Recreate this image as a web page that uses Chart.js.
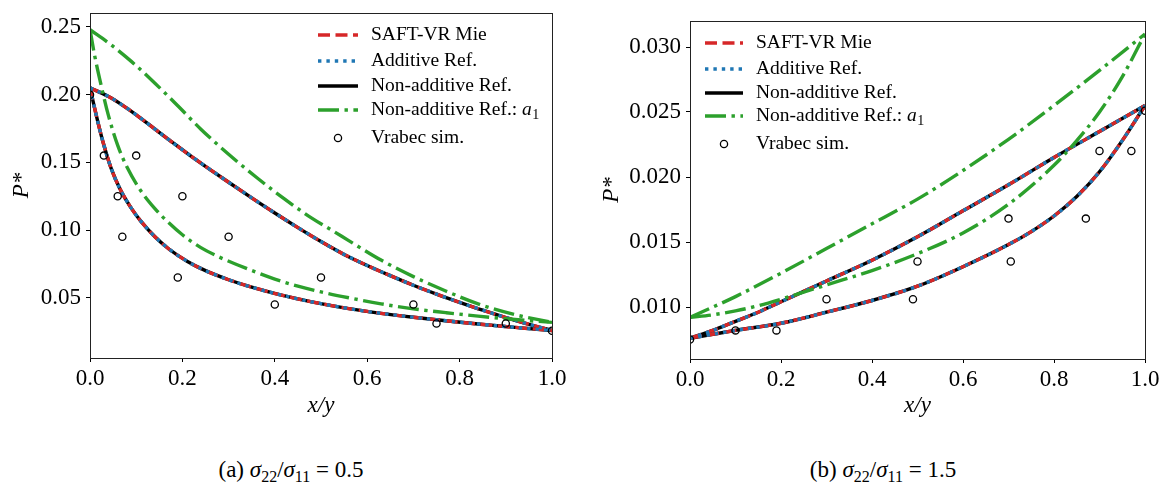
<!DOCTYPE html>
<html><head><meta charset="utf-8">
<script src="https://cdn.jsdelivr.net/npm/chart.js@4.4.0/dist/chart.umd.min.js"></script>
<style>
html,body{margin:0;padding:0;background:#fff;width:1160px;height:484px;overflow:hidden;}
.wrap{position:absolute;top:0;width:580px;height:430px;}
.cap{position:absolute;top:456px;font-family:'Liberation Serif',serif;font-size:23px;line-height:28px;color:#000;white-space:nowrap;transform:translateX(-50%);}
.cap i{font-style:italic}
.cap sub{font-size:16px;vertical-align:-5px;line-height:0}
</style></head><body>
<div class="wrap" style="left:0"><canvas id="ca" width="580" height="430"></canvas></div>
<div class="wrap" style="left:580px"><canvas id="cb" width="580" height="430"></canvas></div>
<div class="cap" style="left:291px">(a) <i>σ</i><sub>22</sub>/<i>σ</i><sub>11</sub> = 0.5</div>
<div class="cap" style="left:883px">(b) <i>σ</i><sub>22</sub>/<i>σ</i><sub>11</sub> = 1.5</div>
<script>
// ---------- tick values ----------
const xTicks = [0, 0.2, 0.4, 0.6, 0.8, 1.0];
const yTicksA = [0.05, 0.10, 0.15, 0.20, 0.25];
const yTicksB = [0.010, 0.015, 0.020, 0.025, 0.030];
const seriesLabels = ['SAFT-VR Mie', 'Additive Ref.', 'Non-additive Ref.', 'Non-additive Ref.: ', 'Vrabec sim.'];

// ---------- (a) sigma22/sigma11 = 0.5 ----------
const xA_bub = [0, 0.04, 0.07, 0.10, 0.14, 0.18, 0.22, 0.26, 0.30, 0.35, 0.40, 0.45, 0.50, 0.55, 0.60, 0.65, 0.70, 0.75, 0.80, 0.85, 0.90, 0.95, 1.0];
const pA_bub = [0.205, 0.1986, 0.1923, 0.1851, 0.1747, 0.1643, 0.1543, 0.1447, 0.1353, 0.1238, 0.1126, 0.1018, 0.0915, 0.0820, 0.0738, 0.0663, 0.0592, 0.0527, 0.0466, 0.0408, 0.0354, 0.0304, 0.0258];
const xA_dew = [0, 0.01, 0.02, 0.03, 0.045, 0.065, 0.09, 0.11, 0.14, 0.17, 0.21, 0.25, 0.30, 0.35, 0.41, 0.48, 0.56, 0.63, 0.70, 0.77, 0.84, 0.92, 1.0];
const pA_dew = [0.205, 0.1900, 0.1757, 0.1628, 0.1463, 0.1303, 0.1158, 0.1066, 0.0952, 0.0862, 0.0770, 0.0700, 0.0633, 0.0578, 0.0523, 0.0470, 0.0420, 0.0385, 0.0356, 0.0330, 0.0306, 0.0281, 0.0258];
const xA_a1bub = [0, 0.046, 0.09, 0.14, 0.19, 0.24, 0.30, 0.36, 0.42, 0.48, 0.53, 0.56, 0.63, 0.70, 0.77, 0.84, 0.92, 1.0];
const pA_a1bub = [0.248, 0.2367, 0.2244, 0.2086, 0.1918, 0.1745, 0.1560, 0.1390, 0.1232, 0.1088, 0.0985, 0.0922, 0.0778, 0.0656, 0.0550, 0.0455, 0.0375, 0.0318];
const xA_a1dew = [0, 0.01, 0.025, 0.04, 0.06, 0.08, 0.11, 0.14, 0.17, 0.20, 0.24, 0.28, 0.32, 0.36, 0.40, 0.45, 0.50, 0.56, 0.63, 0.70, 0.77, 0.84, 0.92, 1.0];
const pA_a1dew = [0.248, 0.229, 0.2055, 0.1845, 0.1625, 0.1465, 0.1290, 0.1160, 0.1055, 0.0965, 0.0870, 0.0800, 0.0742, 0.0688, 0.0638, 0.0585, 0.0543, 0.0500, 0.0455, 0.0418, 0.0390, 0.0364, 0.0339, 0.0318];
const xA_sim = [0, 0.03, 0.10, 0.06, 0.20, 0.07, 0.30, 0.19, 0.50, 0.40, 0.70, 0.75, 0.90, 1.0];
const pA_sim = [0.200, 0.155, 0.155, 0.125, 0.125, 0.095, 0.095, 0.065, 0.065, 0.045, 0.045, 0.031, 0.031, 0.0256];

// ---------- (b) sigma22/sigma11 = 1.5 ----------
const xB_bub = [0, 0.05, 0.10, 0.15, 0.20, 0.30, 0.40, 0.50, 0.60, 0.70, 0.80, 0.90, 1.0];
const pB_bub = [0.0076, 0.0082, 0.0089, 0.0096, 0.0104, 0.0120, 0.0136, 0.0154, 0.0174, 0.0194, 0.0215, 0.0235, 0.0255];
const xB_dew = [0, 0.05, 0.10, 0.20, 0.30, 0.40, 0.50, 0.60, 0.70, 0.75, 0.80, 0.85, 0.90, 0.95, 1.0];
const pB_dew = [0.0076, 0.0079, 0.0082, 0.00875, 0.0096, 0.0105, 0.0116, 0.0131, 0.0148, 0.0158, 0.0170, 0.0185, 0.0204, 0.0228, 0.0255];
const xB_a1bub = [0, 0.10, 0.20, 0.30, 0.40, 0.50, 0.60, 0.70, 0.80, 0.90, 1.0];
const pB_a1bub = [0.0092, 0.0108, 0.0126, 0.0145, 0.0164, 0.0183, 0.0205, 0.0229, 0.0255, 0.0282, 0.0310];
const xB_a1dew = [0, 0.05, 0.10, 0.15, 0.20, 0.30, 0.40, 0.50, 0.60, 0.70, 0.80, 0.85, 0.90, 0.95, 1.0];
const pB_a1dew = [0.0092, 0.0094, 0.0097, 0.0101, 0.0106, 0.0117, 0.0128, 0.0141, 0.0157, 0.0179, 0.0209, 0.0228, 0.0250, 0.0277, 0.0310];
const xB_sim = [0, 0.10, 0.19, 0.30, 0.49, 0.50, 0.705, 0.70, 0.87, 0.90, 0.97, 1.0];
const pB_sim = [0.0075, 0.0082, 0.0082, 0.0106, 0.0106, 0.0135, 0.0135, 0.0168, 0.0168, 0.0220, 0.0220, 0.0251];

// ---------- helpers ----------
const pts = (xs, ys) => xs.map((x, i) => ({x: x, y: ys[i]}));
const SERIF = "'Liberation Serif', serif";
const RED = '#d62728', BLUE = '#1f77b4', GREEN = '#2ca02c', BLACK = '#000000';
const LW = 3.4;
const DASH = [12, 5.5], DOT = [3.4, 5], DASHDOT = [21, 5.5, 3.4, 5.5];

function lineDs(data, color, dash, order) {
  return {data: data, showLine: true, borderColor: color, borderWidth: LW, borderDash: dash,
    pointRadius: 0, fill: false, cubicInterpolationMode: 'monotone', order: order, borderCapStyle: 'butt', borderJoinStyle: 'round'};
}
function buildDatasets(bx, bp, dx, dp, abx, abp, adx, adp, sx, sp) {
  const bub = pts(bx, bp), dew = pts(dx, dp);
  return [
    lineDs(bub, RED, DASH, 2), lineDs(dew, RED, DASH, 2),        // 0,1 SAFT-VR Mie
    lineDs(bub, BLUE, DOT, 1), lineDs(dew, BLUE, DOT, 1),        // 2,3 Additive
    lineDs(bub, BLACK, [], 3), lineDs(dew, BLACK, [], 3),        // 4,5 Non-additive
    lineDs(pts(abx, abp), GREEN, DASHDOT, 0.5), lineDs(pts(adx, adp), GREEN, DASHDOT, 0.5), // 6,7 a1
    {data: pts(sx, sp), showLine: false, pointRadius: 3.6, pointBorderWidth: 1.3,
      pointBorderColor: '#000', pointBackgroundColor: 'rgba(0,0,0,0)', order: 0}  // 8 sim
  ];
}

const frame = {
  id: 'frame',
  afterDatasetsDraw(chart) {
    const a = chart.chartArea, ctx = chart.ctx;
    ctx.save();
    ctx.strokeStyle = '#222';
    ctx.lineWidth = 1;
    ctx.setLineDash([]);
    ctx.strokeRect(Math.round(a.left) + 0.5, Math.round(a.top) + 0.5, Math.round(a.right - a.left), Math.round(a.bottom - a.top));
    ctx.restore();
  }
};

const phaseLegend = {
  id: 'phaseLegend',
  afterDraw(chart, args, o) {
    const ctx = chart.ctx, ds = chart.data.datasets;
    const map = [0, 2, 4, 6, 8];
    ctx.save();
    map.forEach((di, i) => {
      const d = ds[di], y = o.rows[i];
      if (i < 4) {
        ctx.beginPath();
        ctx.setLineDash(d.borderDash);
        ctx.lineDashOffset = 0;
        ctx.lineWidth = d.borderWidth;
        ctx.strokeStyle = d.borderColor;
        ctx.lineCap = 'butt';
        ctx.moveTo(o.x0, y); ctx.lineTo(o.x1, y);
        ctx.stroke();
      } else {
        ctx.beginPath();
        ctx.setLineDash([]);
        ctx.lineWidth = d.pointBorderWidth;
        ctx.strokeStyle = d.pointBorderColor;
        ctx.arc((o.x0 + o.x1) / 2, y, d.pointRadius, 0, Math.PI * 2);
        ctx.stroke();
      }
      ctx.fillStyle = '#000';
      ctx.textBaseline = 'middle';
      ctx.textAlign = 'left';
      ctx.font = o.size + 'px ' + SERIF;
      const txt = seriesLabels[i];
      ctx.fillText(txt, o.tx, y);
      if (i === 3) {
        let w = ctx.measureText(txt).width;
        ctx.font = 'italic ' + o.size + 'px ' + SERIF;
        ctx.fillText('a', o.tx + w, y);
        w += ctx.measureText('a').width;
        ctx.font = Math.round(o.size * 0.7) + 'px ' + SERIF;
        ctx.fillText('1', o.tx + w + 0.5, y + 5);
      }
    });
    ctx.restore();
  }
};

function makeChart(id, datasets, cfg) {
  return new Chart(document.getElementById(id), {
    type: 'scatter',
    data: {datasets: datasets},
    plugins: [frame, phaseLegend],
    options: {
      responsive: false, animation: false, events: [],
      layout: {padding: {left: 0, top: cfg.top, right: cfg.right, bottom: 0}},
      plugins: {legend: {display: false}, tooltip: {enabled: false}, phaseLegend: cfg.legend},
      scales: {
        x: {
          type: 'linear', min: 0, max: 1,
          afterFit: s => { s.height = cfg.xh; s.paddingLeft = 0; s.paddingRight = 0; },
          afterBuildTicks: s => { s.ticks = xTicks.map(v => ({value: v})); },
          ticks: {font: {family: SERIF, size: 23}, color: '#000', padding: 3, maxRotation: 0, autoSkip: false,
            callback: v => Number(v).toFixed(1)},
          grid: {display: true, drawOnChartArea: false, drawTicks: true, tickLength: 4, color: '#000', tickWidth: 1},
          border: {display: false},
          title: {display: true, text: 'x/y', color: '#000', font: {family: SERIF, size: 23, style: 'italic'}, padding: {top: 0, bottom: 10}}
        },
        y: {
          type: 'linear', min: cfg.ymin, max: cfg.ymax,
          afterFit: s => { s.width = cfg.yw; s.paddingTop = 0; s.paddingBottom = 0; },
          afterBuildTicks: s => { s.ticks = cfg.yticks.map(v => ({value: v})); },
          ticks: {font: {family: SERIF, size: 23}, color: '#000', padding: 5, autoSkip: false,
            callback: v => Number(v).toFixed(cfg.dec)},
          grid: {display: true, drawOnChartArea: false, drawTicks: true, tickLength: 4, color: '#000', tickWidth: 1},
          border: {display: false},
          title: {display: true, text: 'P*', color: '#000', font: {family: SERIF, size: 23, style: 'italic'}, padding: {top: cfg.ytp, bottom: 0}}
        }
      }
    }
  });
}

makeChart('ca', buildDatasets(xA_bub, pA_bub, xA_dew, pA_dew, xA_a1bub, pA_a1bub, xA_a1dew, pA_a1dew, xA_sim, pA_sim), {
  top: 13, right: 28, xh: 72, yw: 90, ymin: 0.0055, ymax: 0.2603, yticks: yTicksA, dec: 2, ytp: 8,
  legend: {x0: 318, x1: 358, tx: 371, size: 19.5, rows: [35, 61, 86, 110, 138]}
});
makeChart('cb', buildDatasets(xB_bub, pB_bub, xB_dew, pB_dew, xB_a1bub, pB_a1bub, xB_a1dew, pB_a1dew, xB_sim, pB_sim), {
  top: 21, right: 15, xh: 71, yw: 110, ymin: 0.0060, ymax: 0.0320, yticks: yTicksB, dec: 3, ytp: 18,
  legend: {x0: 125, x1: 163, tx: 176, size: 19.5, rows: [43, 69, 93, 116, 144]}
});
</script>
</body></html>
